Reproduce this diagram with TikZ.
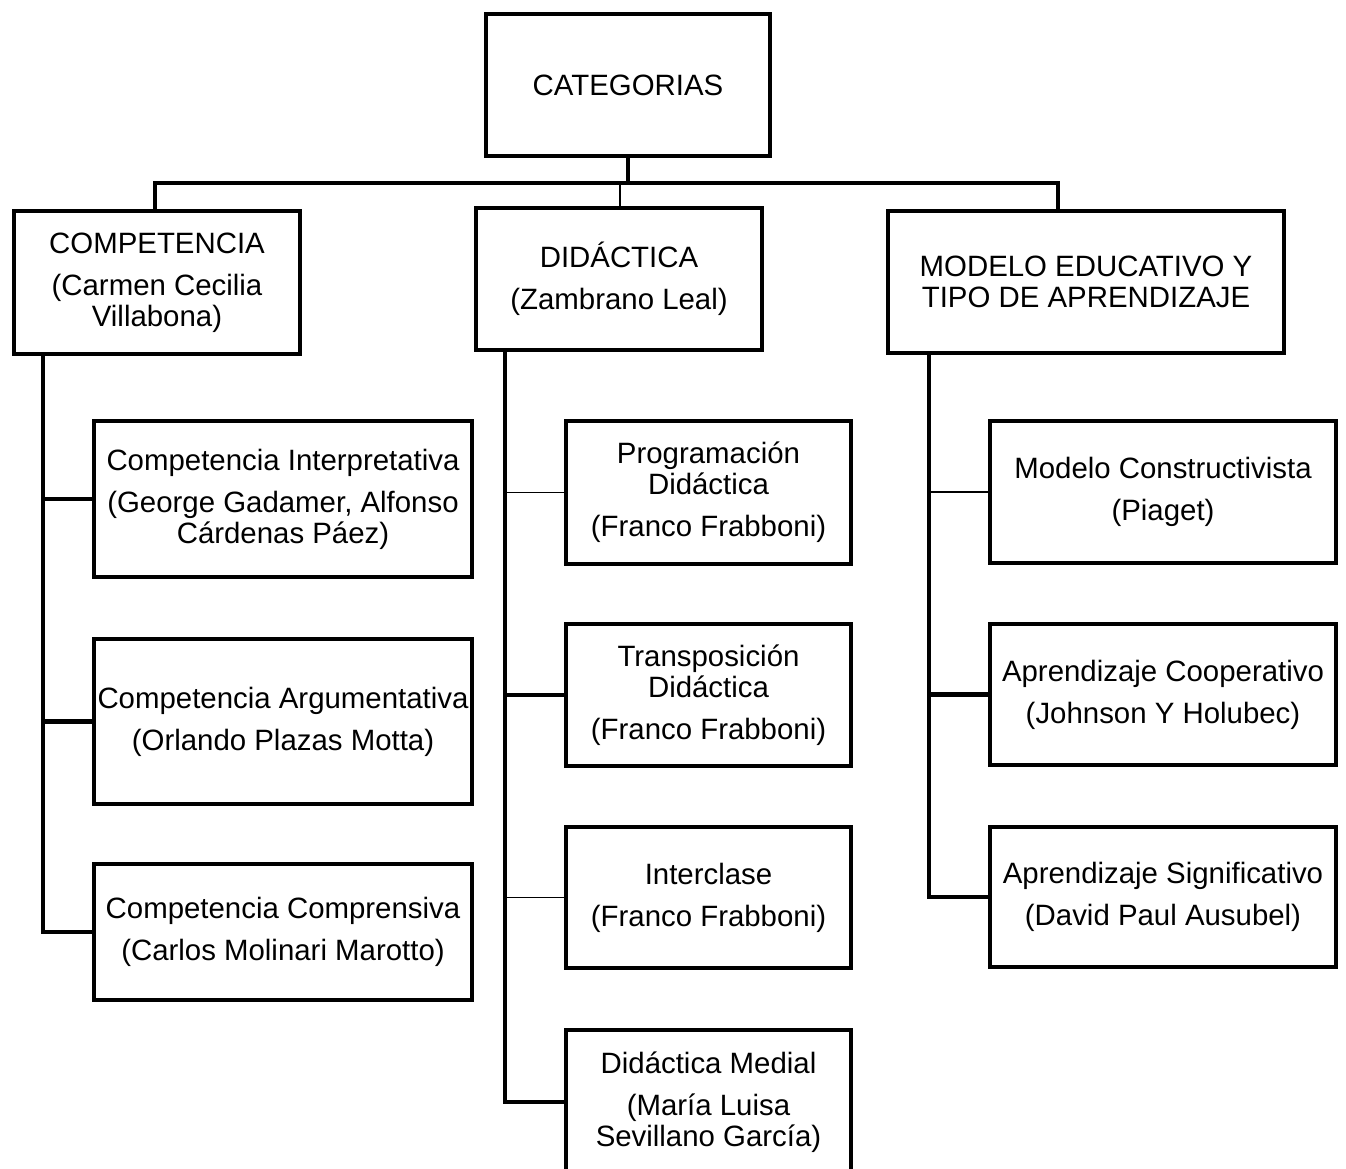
\documentclass[tikz,border=0pt]{standalone}
\usepackage{fontspec}
\setmainfont{Liberation Sans}
\begin{document}
\begin{tikzpicture}[x=1pt,y=-1pt,
  box/.style={draw=black, line width=4.6pt, fill=white, inner sep=0pt, align=center,
    font=\fontsize{29.4}{31}\selectfont},
  thick line/.style={line width=4.6pt, line cap=rect},
  thin line/.style={line width=1.4pt}]
\useasboundingbox (0,0) rectangle (1346,1169);
% top
\node[box, minimum width=284pt, minimum height=142pt] (cat) at (628,85) {CATEGORIAS};
% level 1
\node[box, minimum width=286pt, minimum height=143pt] (comp) at (157,282.5) {COMPETENCIA\\[11pt](Carmen Cecilia\\Villabona)};
\node[box, minimum width=286pt, minimum height=142pt] (did) at (619,279) {DIDÁCTICA\\[11pt](Zambrano Leal)};
\node[box, minimum width=396pt, minimum height=142pt] (mod) at (1086,282) {MODELO EDUCATIVO Y\\TIPO DE APRENDIZAJE};
% left children
\node[box, minimum width=378pt, minimum height=156pt] (ci) at (283,499) {Competencia Interpretativa\\[11pt](George Gadamer, Alfonso\\Cárdenas Páez)};
\node[box, minimum width=378pt, minimum height=165pt] (ca) at (283,721.5) {Competencia Argumentativa\\[11pt](Orlando Plazas Motta)};
\node[box, minimum width=378pt, minimum height=136pt] (cc) at (283,932) {Competencia Comprensiva\\[11pt](Carlos Molinari Marotto)};
% middle children
\node[box, minimum width=285pt, minimum height=143pt] (pd) at (708.5,492.5) {Programación\\Didáctica\\[11pt](Franco Frabboni)};
\node[box, minimum width=285pt, minimum height=142pt] (td) at (708.5,695) {Transposición\\Didáctica\\[11pt](Franco Frabboni)};
\node[box, minimum width=285pt, minimum height=141pt] (ic) at (708.5,897.5) {Interclase\\[11pt](Franco Frabboni)};
\node[box, minimum width=285pt, minimum height=144pt] (dm) at (708.5,1102) {Didáctica Medial\\[11pt](María Luisa\\Sevillano García)};
% right children
\node[box, minimum width=346pt, minimum height=142pt] (mc) at (1163,492) {Modelo Constructivista\\[11pt](Piaget)};
\node[box, minimum width=346pt, minimum height=141pt] (ac) at (1163,694.5) {Aprendizaje Cooperativo\\[11pt](Johnson Y Holubec)};
\node[box, minimum width=346pt, minimum height=140pt] (as) at (1163,897) {Aprendizaje Significativo\\[11pt](David Paul Ausubel)};
% top connectors
\coordinate (bar) at (628,183);
\coordinate (barL) at (155,183);
\coordinate (barR) at (1058,183);
\coordinate (barM) at (620,183);
\draw[thick line] (cat.south) -- (bar);
\draw[thick line] (barL |- comp.north) -- (barL) -- (barR) -- (barR |- mod.north);
\draw[thin line] (barM) -- (barM |- did.north);
% left trunk
\coordinate (tl) at (43,0);
\draw[thick line] (tl |- comp.south) -- (tl |- cc.west) -- (cc.west);
\draw[thick line] (tl |- ci.west) -- (ci.west);
\draw[thick line] (tl |- ca.west) -- (ca.west);
% middle trunk
\coordinate (tm) at (505,0);
\draw[thick line] (tm |- did.south) -- (tm |- dm.west) -- (dm.west);
\draw[thin line] (tm |- pd.west) -- (pd.west);
\draw[thick line] (tm |- td.west) -- (td.west);
\draw[thin line] (tm |- ic.west) -- (ic.west);
% right trunk
\coordinate (tr) at (929,0);
\draw[thick line] (tr |- mod.south) -- (tr |- as.west) -- (as.west);
\draw[thin line] (tr |- mc.west) -- (mc.west);
\draw[thick line] (tr |- ac.west) -- (ac.west);
\end{tikzpicture}
\end{document}
